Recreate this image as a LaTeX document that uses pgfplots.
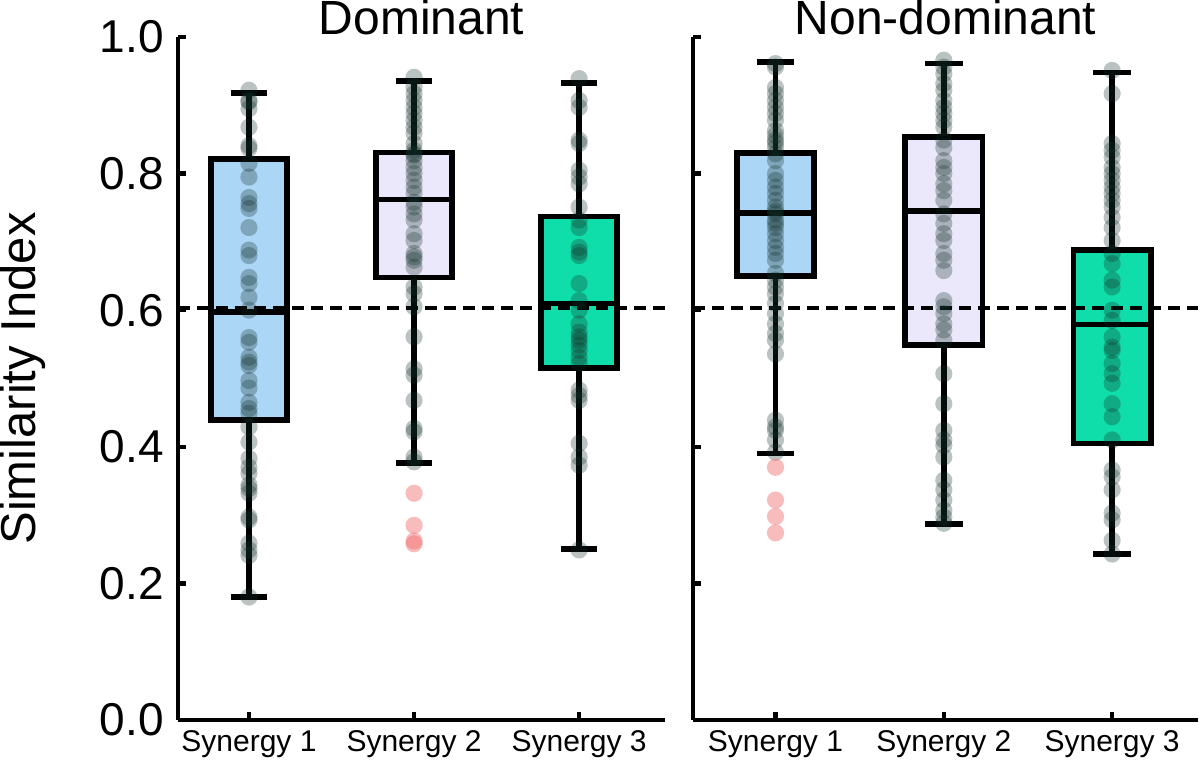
\documentclass[border=0pt]{standalone}
\usepackage{fontspec}
\setmainfont{Liberation Sans}
\usepackage{pgfplots}
\pgfplotsset{compat=1.18}
\usepgfplotslibrary{statistics}
\definecolor{boxA}{HTML}{ABD6F5}
\definecolor{boxB}{HTML}{EAE8FA}
\definecolor{boxC}{HTML}{10DEAA}
\definecolor{dotcol}{HTML}{12302A}
\definecolor{outl}{HTML}{F06A6A}

\pgfplotsset{
  panel/.style={
    scale only axis, height=341.5pt, ymin=0, ymax=1,
    axis x line=bottom, axis y line=left,
    axis line style={-, line width=2.4pt},
    ytick={0,0.2,0.4,0.6,0.8,1},
    xtick={1,2,3}, xticklabels={Synergy 1,Synergy 2,Synergy 3},
    tick align=inside, major tick length=4pt,
    tick style={line width=2.2pt, black},
    xticklabel style={font=\fontsize{15}{17}\selectfont, yshift=-1.5pt},
    title style={font=\fontsize{24}{27}\selectfont, at={(0.5,1)}, anchor=base, inner sep=0pt, yshift=-5pt},
    clip=false,
  },
  dotsty/.style={only marks, mark=*, mark size=4.3pt,
    mark options={draw opacity=0, fill=dotcol, fill opacity=0.29}},
  outsty/.style={only marks, mark=*, mark size=4.3pt,
    mark options={draw opacity=0, fill=outl, fill opacity=0.45}},
  bx/.style={draw=black, line width=2.8pt, fill=#1},
  dash/.style={black, line width=2.3pt, dash pattern=on 6pt off 3.5pt},
}

\begin{document}
\begin{tikzpicture}
\useasboundingbox (-89pt,-22pt) rectangle (511pt,360pt);
% dominant
\begin{axis}[panel, width=243.5pt, xmin=0.57, xmax=3.52,
  title={Dominant}, ylabel={Similarity Index},
  ylabel style={font=\fontsize{24.5}{27}\selectfont, at={(axis description cs:-0.318,0.5)}, anchor=center},
  yticklabel style={font=\fontsize{23}{26}\selectfont, xshift=-3.5pt},
  /pgf/number format/.cd, fixed, fixed zerofill, precision=1, assume math mode=true]
\addplot[bx=boxA, boxplot prepared={draw direction=y, draw position=1, lower whisker=0.18, lower quartile=0.439, median=0.597, upper quartile=0.821, upper whisker=0.918, box extend=0.46, whisker extend=0.22}] coordinates {};
\addplot[bx=boxB, boxplot prepared={draw direction=y, draw position=2, lower whisker=0.376, lower quartile=0.648, median=0.762, upper quartile=0.831, upper whisker=0.936, box extend=0.46, whisker extend=0.22}] coordinates {};
\addplot[bx=boxC, boxplot prepared={draw direction=y, draw position=3, lower whisker=0.25, lower quartile=0.515, median=0.610, upper quartile=0.737, upper whisker=0.933, box extend=0.46, whisker extend=0.22}] coordinates {};
\addplot[dash] coordinates {(0.57,0.603) (3.52,0.603)};
\addplot[dotsty] coordinates {
(1,0.922)(1,0.907)(1,0.905)(1,0.895)(1,0.868)(1,0.841)(1,0.837)(1,0.815)(1,0.795)(1,0.765)
(1,0.756)(1,0.749)(1,0.721)(1,0.688)(1,0.680)(1,0.648)(1,0.639)(1,0.619)(1,0.600)(1,0.560)
(1,0.553)(1,0.531)(1,0.524)(1,0.519)(1,0.497)(1,0.486)(1,0.465)(1,0.456)(1,0.449)(1,0.429)
(1,0.407)(1,0.383)(1,0.370)(1,0.361)(1,0.344)(1,0.339)(1,0.332)(1,0.297)(1,0.293)(1,0.259)
(1,0.249)(1,0.241)(1,0.180)};
\addplot[dotsty] coordinates {
(2,0.941)(2,0.927)(2,0.917)(2,0.907)(2,0.897)(2,0.888)(2,0.878)(2,0.868)(2,0.859)(2,0.844)
(2,0.834)(2,0.829)(2,0.827)(2,0.819)(2,0.809)(2,0.800)(2,0.790)(2,0.780)(2,0.771)(2,0.758)
(2,0.751)(2,0.741)(2,0.732)(2,0.712)(2,0.702)(2,0.683)(2,0.678)(2,0.673)(2,0.663)(2,0.634)
(2,0.624)(2,0.605)(2,0.561)(2,0.514)(2,0.505)(2,0.468)(2,0.427)(2,0.422)(2,0.385)(2,0.378)};
\addplot[outsty] coordinates {(2,0.332)(2,0.285)(2,0.262)(2,0.258)};
\addplot[dotsty] coordinates {
(3,0.939)(3,0.907)(3,0.897)(3,0.849)(3,0.844)(3,0.805)(3,0.795)(3,0.785)(3,0.751)(3,0.732)
(3,0.721)(3,0.692)(3,0.685)(3,0.680)(3,0.639)(3,0.614)(3,0.600)(3,0.580)(3,0.568)(3,0.561)
(3,0.556)(3,0.549)(3,0.541)(3,0.531)(3,0.522)(3,0.483)(3,0.475)(3,0.468)(3,0.405)(3,0.385)
(3,0.373)(3,0.249)};
\end{axis}
% non-dominant
\begin{axis}[panel, at={(257.5pt,0)}, anchor=south west, width=252.5pt, xmin=0.51, xmax=3.51,
  title={Non-dominant}, yticklabels={}]
\addplot[bx=boxA, boxplot prepared={draw direction=y, draw position=1, lower whisker=0.39, lower quartile=0.650, median=0.742, upper quartile=0.830, upper whisker=0.963, box extend=0.46, whisker extend=0.225}] coordinates {};
\addplot[bx=boxB, boxplot prepared={draw direction=y, draw position=2, lower whisker=0.287, lower quartile=0.549, median=0.745, upper quartile=0.854, upper whisker=0.961, box extend=0.46, whisker extend=0.225}] coordinates {};
\addplot[bx=boxC, boxplot prepared={draw direction=y, draw position=3, lower whisker=0.243, lower quartile=0.405, median=0.579, upper quartile=0.688, upper whisker=0.948, box extend=0.46, whisker extend=0.225}] coordinates {};
\addplot[dash] coordinates {(0.51,0.603) (3.51,0.603)};
\addplot[dotsty] coordinates {
(1,0.961)(1,0.956)(1,0.926)(1,0.917)(1,0.907)(1,0.897)(1,0.888)(1,0.878)(1,0.863)(1,0.856)
(1,0.849)(1,0.845)(1,0.838)(1,0.829)(1,0.819)(1,0.800)(1,0.790)(1,0.780)(1,0.771)(1,0.761)
(1,0.751)(1,0.745)(1,0.741)(1,0.732)(1,0.727)(1,0.721)(1,0.712)(1,0.702)(1,0.692)(1,0.683)
(1,0.673)(1,0.654)(1,0.644)(1,0.634)(1,0.624)(1,0.610)(1,0.595)(1,0.580)(1,0.566)(1,0.556)
(1,0.536)(1,0.439)(1,0.429)(1,0.424)(1,0.410)(1,0.392)};
\addplot[outsty] coordinates {(1,0.370)(1,0.322)(1,0.298)(1,0.274)};
\addplot[dotsty] coordinates {
(2,0.966)(2,0.956)(2,0.946)(2,0.932)(2,0.922)(2,0.907)(2,0.897)(2,0.888)(2,0.878)(2,0.868)
(2,0.849)(2,0.838)(2,0.819)(2,0.809)(2,0.800)(2,0.785)(2,0.775)(2,0.761)(2,0.741)(2,0.727)
(2,0.712)(2,0.702)(2,0.683)(2,0.673)(2,0.658)(2,0.614)(2,0.605)(2,0.595)(2,0.580)(2,0.571)
(2,0.556)(2,0.507)(2,0.463)(2,0.424)(2,0.410)(2,0.402)(2,0.385)(2,0.351)(2,0.337)(2,0.322)
(2,0.307)(2,0.297)(2,0.288)};
\addplot[dotsty] coordinates {
(3,0.951)(3,0.917)(3,0.844)(3,0.834)(3,0.824)(3,0.809)(3,0.800)(3,0.790)(3,0.780)(3,0.771)
(3,0.761)(3,0.751)(3,0.736)(3,0.721)(3,0.702)(3,0.683)(3,0.668)(3,0.644)(3,0.634)(3,0.600)
(3,0.585)(3,0.561)(3,0.546)(3,0.541)(3,0.522)(3,0.507)(3,0.493)(3,0.463)(3,0.444)(3,0.410)
(3,0.366)(3,0.356)(3,0.337)(3,0.303)(3,0.293)(3,0.263)(3,0.243)};
\end{axis}
\end{tikzpicture}
\end{document}
